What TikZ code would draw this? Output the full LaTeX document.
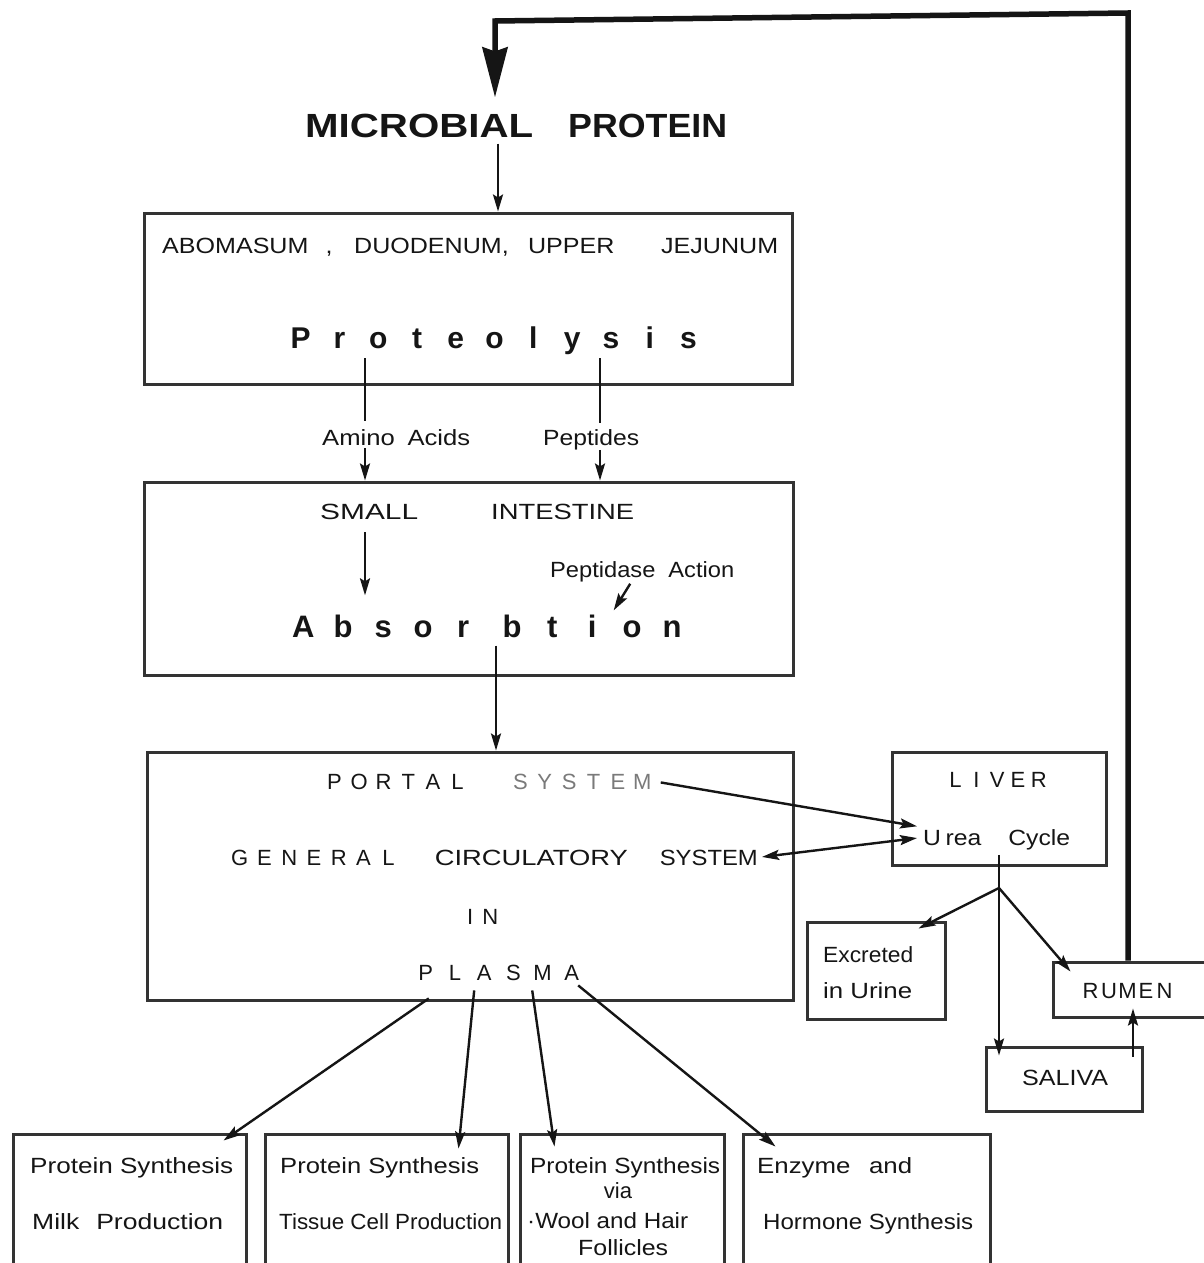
\documentclass[tikz,border=0pt]{standalone}
\usepackage{graphicx}
\usepackage{fontspec}
\setmainfont{Liberation Sans}
\usetikzlibrary{arrows.meta,calc}
\definecolor{ink}{HTML}{151515}
\definecolor{boxc}{HTML}{333333}
\definecolor{greytxt}{HTML}{7A7A7A}
\newcommand{\spc}[2]{\def\spcpitch{#1}\spcloop#2\relax}
\def\spcloop#1{\ifx\relax#1\else\makebox[\spcpitch][c]{#1}\expandafter\spcloop\fi}
\newcommand{\rs}[2]{\resizebox{#1pt}{\height}{#2}}
\begin{document}
\begin{tikzpicture}[x=1pt,y=-1pt,
  bx/.style={draw=boxc, line width=3pt, inner sep=0pt, rectangle},
  txt/.style={inner sep=0pt, anchor=base west, text=ink, font=\fontsize{22}{26}\selectfont},
  btxt/.style={txt, font=\fontsize{30}{36}\selectfont\bfseries},
  conn/.style={draw=ink, line width=2.4pt},
  arr/.style={conn, -{Stealth[length=17pt,width=10pt,inset=3pt]}},
  dbl/.style={conn, {Stealth[length=17pt,width=10pt,inset=3pt]}-{Stealth[length=17pt,width=10pt,inset=3pt]}},
  fb/.style={draw=ink, line width=5.5pt, -{Stealth[length=50pt,width=25pt,inset=4pt]}}]
\path[use as bounding box, fill=white] (0,0) rectangle (1204,1263);

% boxes
\node[bx, minimum width=648pt, minimum height=171pt] (b1) at (468,298.5) {};
\node[bx, minimum width=649pt, minimum height=193pt] (b2) at (468.5,578.5) {};
\node[bx, minimum width=646pt, minimum height=248pt] (b3) at (470,876) {};
\node[bx, minimum width=214pt, minimum height=113pt] (liv) at (999,808.5) {};
\node[bx, minimum width=138pt, minimum height=97pt] (ex) at (876,970.5) {};
\node[bx, minimum width=177pt, minimum height=55pt] (rum) at (1141.5,989.5) {};
\node[bx, minimum width=156pt, minimum height=64pt] (sal) at (1064,1079) {};
\node[bx, minimum width=233pt, minimum height=166pt] (bA) at (129.5,1217) {};
\node[bx, minimum width=243pt, minimum height=166pt] (bB) at (386.5,1217) {};
\node[bx, minimum width=204pt, minimum height=166pt] (bC) at (622,1217) {};
\node[bx, minimum width=247pt, minimum height=166pt] (bD) at (866.5,1217) {};

% texts
\node[txt, font=\fontsize{33.5}{40}\selectfont\bfseries] (mp) at (305,137) {\rs{228}{MICROBIAL}\hspace{35pt}\rs{159}{PROTEIN}};
\node[txt] (abo) at (162,253) {\rs{616}{ABOMASUM\hspace{15pt},\hspace{19pt}DUODENUM,\hspace{17pt}UPPER\hspace{41pt}JEJUNUM}};
\node[btxt] (pro) at (281,348) {\spc{38.8pt}{Proteolysis}};
\node[txt] (aa) at (322,445) {\rs{148}{Amino\hspace{11pt}Acids}};
\node[txt] (pep) at (543,445) {\rs{96}{Peptides}};
\node[txt] (si) at (320,519) {\rs{98}{SMALL}\hspace{73pt}\rs{143}{INTESTINE}};
\node[txt] (pa) at (550,577) {\rs{184}{Peptidase\hspace{12pt}Action}};
\node[btxt, font=\fontsize{31}{37}\selectfont\bfseries] (ab) at (283,637) {\spc{40pt}{Absor}\hspace{9pt}\spc{40pt}{btion}};
\node[txt] (port) at (322,789) {\spc{24.6pt}{PORTAL}};
\node[txt, text=greytxt] (sys) at (508,789) {\spc{24.4pt}{SYSTEM}};
\node[txt] (gen) at (227,865) {\spc{24.8pt}{GENERAL}\hspace{34pt}\rs{193}{CIRCULATORY}\hspace{32pt}\rs{98}{SYSTEM}};
\node[txt] (tin) at (467,924) {I\hspace{9pt}N};
\node[txt] (pl) at (411,980) {\spc{29.2pt}{PLASMA}};
\node[txt] (livt) at (945,787) {\spc{20.8pt}{LIVER}};
\node[txt] (uc) at (923,845) {\rs{147}{U\hspace{4pt}rea\hspace{24pt}Cycle}};
\node[txt] (ex1) at (823,962) {\rs{90}{Excreted}};
\node[txt] (ex2) at (823,998) {\rs{89}{in Urine}};
\node[txt] (rumt) at (1081,998) {\spc{18.5pt}{RUMEN}};
\node[txt] (salt) at (1022,1085) {\rs{86}{SALIVA}};
\node[txt] (a1) at (30,1173) {\rs{203}{Protein Synthesis}};
\node[txt] (a2) at (32,1229) {\rs{191}{Milk\hspace{14pt}Production}};
\node[txt] (b1t) at (280,1173) {\rs{199}{Protein Synthesis}};
\node[txt] (b2t) at (279,1229) {\rs{223}{Tissue Cell Production}};
\node[txt] (c1) at (530,1173) {\rs{190}{Protein Synthesis}};
\node[txt, anchor=base] (c2) at (618,1198) {via};
\node[txt] (c3) at (527,1228) {\rs{161}{·Wool and Hair}};
\node[txt] (c4) at (578,1255) {\rs{90}{Follicles}};
\node[txt] (d1) at (757,1173) {\rs{155}{Enzyme\hspace{16pt}and}};
\node[txt] (d2) at (763,1229) {\rs{210}{Hormone Synthesis}};

% helper coordinates
\coordinate (xT) at (498,0);
\coordinate (xA) at (365,0);
\coordinate (xP) at (600,0);
\coordinate (xM) at (496,0);
\coordinate (xR) at (1133,0);
\coordinate (br) at (999,888);
\coordinate (fbR) at (1128,13);
\coordinate (fbL) at (495,21);

% connectors
\draw[fb, shorten >=16pt] (fbR |- rum.north) -- (fbR) -- (fbL) -- (fbL |- mp.north);
\draw[arr, shorten <=6pt] (xT |- mp.south) -- (xT |- b1.north);
\draw[conn, shorten <=4pt, shorten >=8pt] (xA |- pro.south) -- (xA |- aa.north);
\draw[arr, shorten <=3pt] (xA |- aa.south) -- (xA |- b2.north);
\draw[conn, shorten <=4pt, shorten >=6pt] (xP |- pro.south) -- (xP |- pep.north);
\draw[arr] (xP |- pep.south) -- (xP |- b2.north);
\draw[arr, shorten <=13pt, shorten >=19pt] (xA |- si.south) -- (xA |- ab.north);
\draw[arr] ([xshift=-12pt,yshift=-2pt]pa.south) -- ([xshift=126pt,yshift=4pt]ab.north);
\draw[arr, shorten <=8pt] (xM |- ab.south) -- (xM |- b3.north);
\draw[arr, shorten <=6pt, shorten >=6pt] (sys.east) -- ([yshift=12pt]uc.west);
\draw[dbl, shorten <=4pt, shorten >=6pt] (gen.east) -- ([yshift=2pt]uc.west);
\draw[conn, shorten <=5pt] (br |- uc.south) -- (br);
\draw[arr] (br) -- ([xshift=-28pt,yshift=-8pt]ex.north east);
\draw[arr, shorten >=-10pt] (br) -- (br |- sal.north);
\draw[arr] (br) -- ([xshift=19pt,yshift=-11pt]rum.north west);
\draw[arr, shorten <=-11pt, shorten >=-10pt] (xR |- sal.north) -- (xR |- rum.south);
\draw[arr] ([xshift=-70pt,yshift=-18pt]pl.south) -- ([xshift=-24pt,yshift=-8pt]bA.north east);
\draw[arr] ([xshift=-24.6pt,yshift=-10pt]pl.south) -- ([xshift=-51pt,yshift=-16pt]bB.north east);
\draw[arr] ([xshift=33.4pt,yshift=-10pt]pl.south) -- ([xshift=36pt,yshift=-14pt]bC.north west);
\draw[arr] ([xshift=79.4pt,yshift=-5pt]pl.south) -- ([xshift=34pt,yshift=-14pt]bD.north west);
\end{tikzpicture}
\end{document}
